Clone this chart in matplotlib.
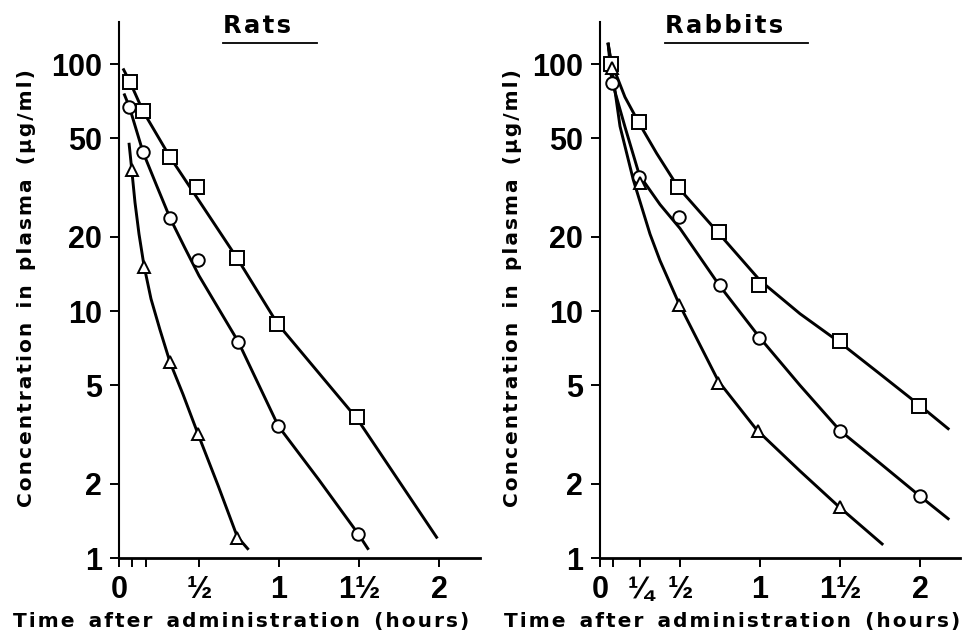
import numpy as np
import matplotlib.pyplot as plt
from matplotlib.lines import Line2D

# ── Data (time in hours, concentration in ug/ml) ─────────────────────────────
# Rats - measured points
rat_sq_t = [0.069, 0.15, 0.319, 0.487, 0.74, 0.99, 1.49]
rat_sq_c = [84.5, 64.5, 42, 31.8, 16.4, 8.9, 3.72]
rat_ci_t = [0.065, 0.15, 0.319, 0.494, 0.746, 0.996, 1.496]
rat_ci_c = [67, 44, 23.8, 16.1, 7.5, 3.42, 1.25]
rat_tr_t = [0.081, 0.156, 0.319, 0.496, 0.739]
rat_tr_c = [37.2, 15.1, 6.24, 3.18, 1.21]

# Rats - fitted curves (traced)
rat_sq_fit_t = [0.025, 0.069, 0.15, 0.319, 0.487, 0.74, 0.99, 1.49, 1.99]
rat_sq_fit_c = [96, 84.5, 64.5, 42, 28.8, 16.3, 8.9, 3.65, 1.2]
rat_ci_fit_t = [0.031, 0.065, 0.15, 0.237, 0.319, 0.41, 0.5, 0.746, 0.996, 1.25, 1.496, 1.56]
rat_ci_fit_c = [76, 67, 44, 32, 23.8, 18.1, 13.9, 7.5, 3.42, 2.07, 1.25, 1.08]
rat_tr_fit_t = [0.0625, 0.075, 0.1, 0.125, 0.156, 0.2, 0.256, 0.319, 0.4, 0.496, 0.62, 0.739, 0.81]
rat_tr_fit_c = [48, 40, 27.5, 20.5, 15.3, 11.2, 8.4, 6.2, 4.6, 3.15, 1.96, 1.22, 1.08]

# Rabbits - measured points
rab_sq_t = [0.07, 0.245, 0.489, 0.746, 0.996, 1.5, 1.996]
rab_sq_c = [100, 58, 31.9, 20.8, 12.8, 7.58, 4.12]
rab_ci_t = [0.073, 0.246, 0.494, 0.75, 0.996, 1.5, 2.0]
rab_ci_c = [84, 35, 24, 12.7, 7.78, 3.28, 1.78]
rab_tr_t = [0.077, 0.25, 0.494, 0.74, 0.99, 1.5]
rab_tr_c = [96, 33, 10.6, 5.1, 3.28, 1.61]

# Rabbits - fitted curves (traced)
rab_sq_fit_t = [0.05, 0.07, 0.156, 0.245, 0.354, 0.49, 0.746, 1.0, 1.25, 1.5, 1.75, 2.0, 2.183]
rab_sq_fit_c = [122, 102, 73.5, 57.5, 43.5, 31.6, 20.5, 13.3, 9.75, 7.45, 5.56, 4.14, 3.31]
rab_ci_fit_t = [0.05, 0.073, 0.156, 0.246, 0.375, 0.5, 0.746, 1.0, 1.25, 1.5, 1.75, 2.0, 2.183]
rab_ci_fit_c = [122, 86, 55.7, 35.5, 27, 21.6, 12.7, 7.78, 5.0, 3.28, 2.42, 1.78, 1.43]
rab_tr_fit_t = [0.05, 0.077, 0.125, 0.208, 0.3125, 0.375, 0.494, 0.74, 0.98, 1.25, 1.49, 1.77]
rab_tr_fit_c = [122, 93, 56, 34, 20.5, 16, 10.7, 5.2, 3.3, 2.25, 1.62, 1.13]

y_ticks = [1, 2, 5, 10, 20, 50, 100]
rat_xticks = [0, 0.5, 1, 1.5, 2]
rat_xlabels = ['0', '½', '1', '1½', '2']
rat_minor = [1 / 12, 1 / 6]
rab_xticks = [0, 0.25, 0.5, 1, 1.5, 2]
rab_xlabels = ['0', '¼', '½', '1', '1½', '2']
rab_minor = [1 / 12]

tick_font = ['Liberation Sans Narrow', 'Liberation Sans', 'DejaVu Sans']
label_font = ['DejaVu Sans']

W, H = 963, 640
fig = plt.figure(figsize=(W / 100, H / 100), dpi=100)


def spaced(s):
    # letter-spaced text with wide word gaps, like the typeset original
    words = ['\u200a'.join(w) for w in s.split(' ')]
    return '\u200a\u2002\u200a'.join(words)


def setup_axes(ax, xmax, xticks, xlabels, minor):
    ax.set_yscale('log')
    ax.set_ylim(1, 148)
    ax.set_xlim(0, xmax)
    ax.set_yticks(y_ticks)
    ax.set_yticklabels([str(v) for v in y_ticks])
    ax.yaxis.set_minor_locator(plt.NullLocator())
    ax.set_xticks(xticks)
    ax.set_xticklabels(xlabels)
    ax.set_xticks(minor, minor=True)
    for s in ['top', 'right']:
        ax.spines[s].set_visible(False)
    ax.spines['left'].set_linewidth(1.5)
    ax.spines['bottom'].set_linewidth(2.0)
    ax.tick_params(axis='both', which='both', direction='out', length=6.5,
                   width=1.4, pad=6)
    for lab in ax.get_xticklabels() + ax.get_yticklabels():
        lab.set_fontfamily(tick_font)
        lab.set_fontweight('bold')
        lab.set_fontsize(22)


def draw_series(ax, fit_t, fit_c, t, c, marker, ms):
    ax.plot(fit_t, fit_c, color='black', lw=2.1, solid_capstyle='butt',
            solid_joinstyle='round', zorder=2)
    ax.plot(t, c, linestyle='none', marker=marker, ms=ms, mfc='white',
            mec='black', mew=1.4, zorder=3, clip_on=False)


# ── Rats panel ───────────────────────────────────────────────────────────────
ax1 = fig.add_axes([119 / W, 1 - 558 / H, 361 / W, 536 / H])
draw_series(ax1, rat_sq_fit_t, rat_sq_fit_c, rat_sq_t, rat_sq_c, 's', 9.5)
draw_series(ax1, rat_ci_fit_t, rat_ci_fit_c, rat_ci_t, rat_ci_c, 'o', 9)
draw_series(ax1, rat_tr_fit_t, rat_tr_fit_c, rat_tr_t, rat_tr_c, '^', 9)
setup_axes(ax1, 361 / 160, rat_xticks, rat_xlabels, rat_minor)

# ── Rabbits panel ────────────────────────────────────────────────────────────
ax2 = fig.add_axes([600 / W, 1 - 558 / H, 360 / W, 536 / H])
draw_series(ax2, rab_sq_fit_t, rab_sq_fit_c, rab_sq_t, rab_sq_c, 's', 9.5)
draw_series(ax2, rab_ci_fit_t, rab_ci_fit_c, rab_ci_t, rab_ci_c, 'o', 9)
draw_series(ax2, rab_tr_fit_t, rab_tr_fit_c, rab_tr_t, rab_tr_c, '^', 9)
setup_axes(ax2, 360 / 160, rab_xticks, rab_xlabels, rab_minor)

# ── Titles with underline ────────────────────────────────────────────────────
for name, x0, x1 in [('Rats', 223, 317), ('Rabbits', 665, 808)]:
    fig.text(x0 / W, 1 - 26 / H, '\u200a'.join(name), ha='left', va='center',
             fontsize=17.5, fontweight='bold', family=label_font)
    fig.add_artist(Line2D([x0 / W, x1 / W], [1 - 43 / H, 1 - 43 / H],
                          color='black', lw=1.3))

# ── Axis labels ──────────────────────────────────────────────────────────────
ylab = spaced('Concentration in plasma (μg/ml)')
xlab = spaced('Time after administration (hours)')
for xc in [27, 512]:
    fig.text(xc / W, 1 - 288 / H, ylab, rotation=90, ha='center', va='center',
             fontsize=14.5, fontweight='bold', family=label_font)
for xc in [241, 732]:
    fig.text(xc / W, 1 - 622 / H, xlab, ha='center', va='center',
             fontsize=14.5, fontweight='bold', family=label_font)

plt.savefig('out.png', dpi=100)
